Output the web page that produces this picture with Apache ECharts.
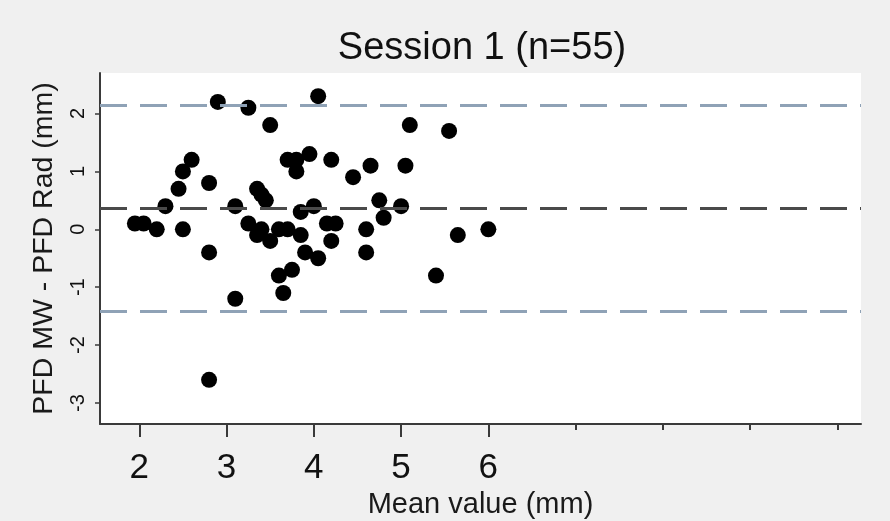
<!DOCTYPE html>
<html>
<head>
<meta charset="utf-8">
<script src="https://cdn.jsdelivr.net/npm/echarts@6/dist/echarts.min.js"></script>
<style>
  html, body { margin: 0; padding: 0; background: #f0f0f0; }
  #chart { width: 890px; height: 521px; }
</style>
</head>
<body>
<div id="chart"></div>
<script>
// mean of the two methods (x) and their difference (y), one entry per subject
const meanValues = [
  1.95, 2.05, 2.2, 2.3, 2.45, 2.5, 2.6, 2.5, 2.8, 2.8, 2.8,
  2.9, 3.1, 3.1, 3.25, 3.5, 3.35, 3.4, 3.45, 3.25, 3.35, 3.4,
  3.5, 3.6, 3.7, 3.85, 3.9, 4.05, 3.7, 3.8, 3.8, 3.95, 4.2,
  3.85, 4.0, 4.15, 4.25, 4.2, 4.45, 4.05, 5.1, 5.55, 4.65, 5.05,
  4.75, 5.0, 4.8, 4.6, 5.65, 6.0, 4.6, 3.6, 3.75, 3.65, 5.4
];
const differences = [
  0.1, 0.1, 0.0, 0.4, 0.7, 1.0, 1.2, 0.0, 0.8, -0.4, -2.6,
  2.2, 0.4, -1.2, 2.1, 1.8, 0.7, 0.6, 0.5, 0.1, -0.1, 0.0,
  -0.2, 0.0, 0.0, -0.1, -0.4, -0.5, 1.2, 1.2, 1.0, 1.3, 1.2,
  0.3, 0.4, 0.1, 0.1, -0.2, 0.9, 2.3, 1.8, 1.7, 1.1, 1.1,
  0.5, 0.4, 0.2, 0.0, -0.1, 0.0, -0.4, -0.8, -0.7, -1.1, -0.8
];

// bias and limits of agreement
const bias = 0.36;
const upperLimit = 2.14;
const lowerLimit = -1.42;

// tick values
const xLabelTicks = [2, 3, 4, 5, 6];
const xMinorTicks = [7, 8, 9, 10];
const yTicks = [-3, -2, -1, 0, 1, 2];

const points = meanValues.map((m, i) => [m, differences[i]]);

const chart = echarts.init(document.getElementById('chart'));

const axisColor = '#3a3a3a';
const fontFamily = '"Liberation Sans", Arial, sans-serif';

const option = {
  backgroundColor: '#f0f0f0',
  animation: false,
  title: {
    text: 'Session 1 (n=55)',
    left: 477,
    textAlign: 'center',
    top: 25,
    textStyle: { fontFamily, fontSize: 38, fontWeight: 'normal', color: '#111' }
  },
  grid: {
    left: 100, right: 29, top: 73, bottom: 97,
    outerBoundsMode: 'none',
    containLabel: false,
    show: true, backgroundColor: '#ffffff', borderWidth: 0
  },
  xAxis: [
    {
      type: 'value',
      min: 1.55, max: 10.27,
      name: 'Mean value (mm)',
      nameLocation: 'middle',
      nameGap: 59,
      nameTextStyle: { fontFamily, fontSize: 29, color: '#1a1a1a' },
      axisLine: { show: true, onZero: false, lineStyle: { color: axisColor, width: 2 } },
      axisTick: { show: true, length: 13, customValues: xLabelTicks, lineStyle: { color: axisColor, width: 2 } },
      axisLabel: { customValues: xLabelTicks, margin: 27, fontFamily, fontSize: 35, color: '#111' },
      splitLine: { show: false }
    },
    {
      type: 'value',
      min: 1.55, max: 10.27,
      position: 'bottom',
      offset: 0,
      axisLine: { show: false, onZero: false },
      axisTick: { show: true, length: 6, customValues: xMinorTicks, lineStyle: { color: axisColor, width: 2 } },
      axisLabel: { show: false },
      splitLine: { show: false }
    }
  ],
  yAxis: {
    type: 'value',
    min: -3.363, max: 2.70,
    name: 'PFD MW - PFD Rad (mm)',
    nameLocation: 'middle',
    nameRotate: 90,
    nameGap: 41,
    nameTextStyle: { fontFamily, fontSize: 28.5, color: '#1a1a1a' },
    axisLine: { show: true, onZero: false, lineStyle: { color: axisColor, width: 2 } },
    axisTick: { show: true, length: 5, customValues: yTicks, lineStyle: { color: axisColor, width: 1.5 } },
    axisLabel: { customValues: yTicks, rotate: 90, margin: 12, fontFamily, fontSize: 20, color: '#111' },
    splitLine: { show: false }
  },
  series: [
    {
      type: 'scatter',
      data: points,
      symbol: 'circle',
      symbolSize: 16,
      itemStyle: { color: '#000000', opacity: 1 },
      markLine: {
        silent: true,
        symbol: 'none',
        label: { show: false },
        data: [
          { yAxis: upperLimit, lineStyle: { color: '#8fa2b6', width: 3, type: [27, 13], opacity: 1 } },
          { yAxis: bias, lineStyle: { color: '#4a4a4a', width: 3, type: [27, 13], opacity: 1 } },
          { yAxis: lowerLimit, lineStyle: { color: '#8fa2b6', width: 3, type: [27, 13], opacity: 1 } }
        ]
      }
    }
  ]
};

chart.setOption(option);
</script>
</body>
</html>
